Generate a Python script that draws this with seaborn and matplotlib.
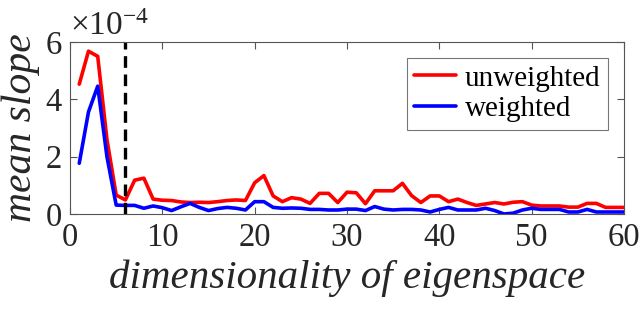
import numpy as np
import pandas as pd
import matplotlib
matplotlib.use("Agg")
import matplotlib.pyplot as plt
import seaborn as sns

# values in units of 1e-4
dims = list(range(1, 61))
unweighted = [4.53, 5.68, 5.50, 2.60, 0.66, 0.49, 1.18, 1.25, 0.52, 0.48,
              0.47, 0.42, 0.40, 0.41, 0.40, 0.43, 0.47, 0.49, 0.47, 1.09,
              1.34, 0.63, 0.43, 0.57, 0.52, 0.37, 0.72, 0.72, 0.40, 0.76,
              0.74, 0.36, 0.81, 0.81, 0.81, 1.07, 0.64, 0.40, 0.63, 0.63,
              0.43, 0.52, 0.40, 0.30, 0.35, 0.40, 0.35, 0.41, 0.43, 0.31,
              0.28, 0.28, 0.28, 0.24, 0.24, 0.37, 0.37, 0.23, 0.23, 0.23]
weighted = [1.77, 3.56, 4.46, 2.00, 0.31, 0.30, 0.30, 0.20, 0.28, 0.22,
            0.12, 0.25, 0.37, 0.23, 0.12, 0.19, 0.23, 0.20, 0.14, 0.43,
            0.43, 0.23, 0.20, 0.21, 0.20, 0.16, 0.16, 0.14, 0.14, 0.17,
            0.17, 0.12, 0.26, 0.17, 0.14, 0.16, 0.16, 0.14, 0.07, 0.16,
            0.23, 0.14, 0.14, 0.14, 0.20, 0.12, 0.00, 0.03, 0.14, 0.20,
            0.16, 0.16, 0.16, 0.07, 0.07, 0.16, 0.07, 0.07, 0.07, 0.07]
cutoff = 6

df = pd.DataFrame({
    "dim": dims * 2,
    "slope": unweighted + weighted,
    "kind": ["unweighted"] * len(dims) + ["weighted"] * len(dims),
})

sns.set_theme(style="ticks")
plt.rcParams["font.family"] = ["Liberation Serif", "DejaVu Serif"]
plt.rcParams["mathtext.fontset"] = "custom"
plt.rcParams["mathtext.rm"] = "Liberation Serif"
plt.rcParams["mathtext.it"] = "Liberation Serif:italic"

fig = plt.figure(figsize=(6.4, 3.13), dpi=100)
ax = fig.add_axes([0.1094, 0.3163, 0.8656, 0.5495])

sns.lineplot(data=df, x="dim", y="slope", hue="kind",
             palette={"unweighted": "#ff0000", "weighted": "#0000ff"},
             linewidth=2.6, ax=ax)
ax.axvline(cutoff, color="black", linestyle=(0, (3.5, 2)), linewidth=2.4)

ax.set_xlim(0, 60)
ax.set_ylim(0, 6)
ax.set_xticks(range(0, 61, 10))
ax.set_yticks([0, 2, 4, 6])

grey = "#262626"
for s in ax.spines.values():
    s.set_visible(True)
    s.set_color("#555555")
    s.set_linewidth(0.8)
ax.tick_params(direction="in", length=5, width=0.8, color="#555555",
               top=True, right=True, labelsize=23.5, labelcolor=grey, pad=6)

ax.set_xlabel("dimensionality of eigenspace", fontsize=29.5, style="italic",
              color=grey, labelpad=5)
ax.set_ylabel("mean slope", fontsize=30, style="italic", color=grey,
              labelpad=4)
ax.text(0.0, 1.0, r"$\times\mathregular{10^{-4}}$", transform=ax.transAxes,
        fontsize=24, color=grey, ha="left", va="bottom")

leg = ax.legend(loc="upper right", bbox_to_anchor=(0.971, 0.907),
                fontsize=21, frameon=True, fancybox=False,
                handlelength=1.45, handletextpad=0.3, borderpad=0.25,
                labelspacing=0.15, borderaxespad=0)
leg.get_frame().set_edgecolor("#555555")
leg.get_frame().set_linewidth(0.8)
for t in leg.get_texts():
    t.set_color("black")

fig.savefig("out.png", dpi=100)
